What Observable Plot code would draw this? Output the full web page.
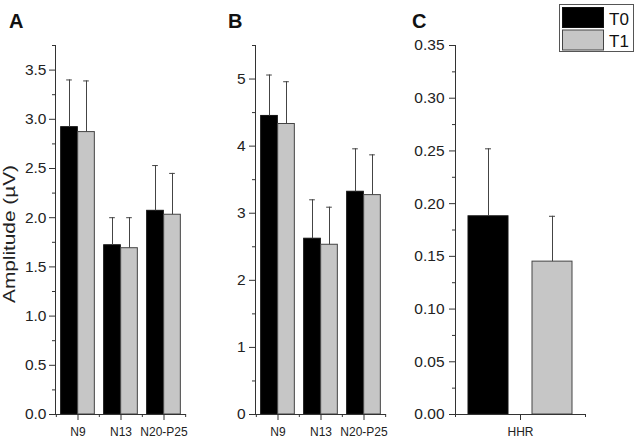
<!DOCTYPE html>
<html><head><meta charset="utf-8">
<script src="https://cdn.jsdelivr.net/npm/d3@7"></script>
<script src="https://cdn.jsdelivr.net/npm/@observablehq/plot@0.6"></script>
<style>
body{margin:0;background:#fff;font-family:"Liberation Sans",Arial,sans-serif;}
#wrap{position:relative;width:638px;height:440px;overflow:hidden;background:#fff;}
#wrap > svg{position:absolute;top:0;}
#overlay{left:0;pointer-events:none;}
</style></head><body><div id="wrap"></div>
<script>
// ---- data ----
const seriesNames = ["T0", "T1"];
const seriesColors = ["#000000", "#c6c6c6"];

const categoriesAB = ["N9", "N13", "N20-P25"];
const categoriesC = ["HHR"];

const panelA_T0 = [2.92, 1.72, 2.07];
const panelA_T1 = [2.87, 1.69, 2.03];
const panelA_T0_err = [0.48, 0.28, 0.46];
const panelA_T1_err = [0.52, 0.31, 0.42];

const panelB_T0 = [4.45, 2.62, 3.32];
const panelB_T1 = [4.33, 2.53, 3.27];
const panelB_T0_err = [0.61, 0.58, 0.64];
const panelB_T1_err = [0.63, 0.56, 0.60];

const panelC_T0 = [0.188];
const panelC_T1 = [0.145];
const panelC_T0_err = [0.064];
const panelC_T1_err = [0.043];

const yTicksA = [0, 0.5, 1, 1.5, 2, 2.5, 3, 3.5];
const yMinorA = [0.25, 0.75, 1.25, 1.75, 2.25, 2.75, 3.25, 3.75];
const yTicksB = [0, 1, 2, 3, 4, 5];
const yMinorB = [0.5, 1.5, 2.5, 3.5, 4.5, 5.5];
const yTicksC = [0, 0.05, 0.10, 0.15, 0.20, 0.25, 0.30, 0.35];
const yMinorC = [0.025, 0.075, 0.125, 0.175, 0.225, 0.275, 0.325];

const yLabel = "Amplitude (µV)";
const panelLetters = ["A", "B", "C"];

// ---- drawing ----
const FONT = '"Liberation Sans", Arial, sans-serif';
const AX = "#333";

function panel({cats, t0, t1, e0, e1, yMax, major, minor, fmt, width, barW, gap, pad}) {
  const rows = [];
  cats.forEach((c, i) => {
    rows.push({cat: c, series: seriesNames[0], value: t0[i], err: e0[i]});
    rows.push({cat: c, series: seriesNames[1], value: t1[i], err: e1[i]});
  });
  const R0 = rows.filter(d => d.series === seriesNames[0]);
  const R1 = rows.filter(d => d.series === seriesNames[1]);
  const ml = 55, inner = 130, mr = width - ml - inner;
  const bw = inner / cats.length;
  const outer = (bw - 2 * barW - gap) / 2;
  const off = gap / 2 + barW / 2;
  const capIn = (bw - 6) / 2;
  const top = d => d.value + d.err;
  return Plot.plot({
    width, height: 440,
    marginLeft: ml, marginRight: mr, marginTop: 45, marginBottom: 26,
    x: {type: "band", domain: cats, padding: 0, axis: null},
    y: {domain: [0, yMax], axis: null},
    color: {domain: seriesNames, range: seriesColors},
    style: {fontFamily: FONT, color: AX, background: "transparent"},
    marks: [
      Plot.barY(R0, {x: "cat", y: "value", fill: "series", stroke: "#111", strokeWidth: 1, insetLeft: outer, insetRight: bw / 2 + gap / 2}),
      Plot.barY(R1, {x: "cat", y: "value", fill: "series", stroke: "#444", strokeWidth: 1, insetLeft: bw / 2 + gap / 2, insetRight: outer}),
      Plot.ruleX(R0, {x: "cat", y1: "value", y2: top, dx: -off, stroke: "#444"}),
      Plot.ruleX(R1, {x: "cat", y1: "value", y2: top, dx: off, stroke: "#444"}),
      Plot.tickY(R0, {x: "cat", y: top, dx: -off, insetLeft: capIn, insetRight: capIn, stroke: "#444"}),
      Plot.tickY(R1, {x: "cat", y: top, dx: off, insetLeft: capIn, insetRight: capIn, stroke: "#444"}),
      Plot.frame({anchor: "left", stroke: AX}),
      Plot.frame({anchor: "bottom", stroke: AX}),
      Plot.axisY(major, {tickSize: 6, tickPadding: pad, tickFormat: fmt, fontSize: 15.5, label: null, fill: "#222"}),
      Plot.axisY(minor, {tickSize: 3, tickFormat: () => "", label: null}),
      Plot.axisX({tickSize: 6, tickPadding: 7, fontSize: 12, label: null, fill: "#222"}),
      Plot.axisX(cats, {tickSize: 3, dx: -bw / 2, tickFormat: () => "", label: null}),
      Plot.axisX([cats[cats.length - 1]], {tickSize: 3, dx: bw / 2, tickFormat: () => "", label: null})
    ]
  });
}

const wrap = document.getElementById("wrap");
const pA = panel({cats: categoriesAB, t0: panelA_T0, t1: panelA_T1, e0: panelA_T0_err, e1: panelA_T1_err,
  yMax: 3.75, major: yTicksA, minor: yMinorA, fmt: d3.format(".1f"), width: 200, barW: 17, gap: 0, pad: 3});
const pB = panel({cats: categoriesAB, t0: panelB_T0, t1: panelB_T1, e0: panelB_T0_err, e1: panelB_T1_err,
  yMax: 5.5, major: yTicksB, minor: yMinorB, fmt: d3.format("d"), width: 200, barW: 17, gap: 0, pad: 4});
const pC = panel({cats: categoriesC, t0: panelC_T0, t1: panelC_T1, e0: panelC_T0_err, e1: panelC_T1_err,
  yMax: 0.35, major: yTicksC, minor: yMinorC, fmt: d3.format(".2f"), width: 238, barW: 40, gap: 24, pad: 5});
pA.style.left = "0px"; pB.style.left = "200px"; pC.style.left = "400px";
wrap.append(pA, pB, pC);

// overlay: panel letters, y label, legend
const ov = d3.create("svg").attr("id", "overlay").attr("width", 638).attr("height", 440)
  .style("font-family", FONT);
const letterX = [9, 228, 412];
panelLetters.forEach((L, i) => ov.append("text").attr("x", letterX[i]).attr("y", 28)
  .attr("font-size", 20).attr("font-weight", "bold").attr("fill", "#111").text(L));
ov.append("text").attr("transform", "translate(15,234) rotate(-90)").attr("text-anchor", "middle")
  .attr("font-size", 16).attr("fill", "#222")
  .attr("textLength", 138).attr("lengthAdjust", "spacingAndGlyphs").text(yLabel);
const lg = ov.append("g");
lg.append("rect").attr("x", 559.5).attr("y", 4.5).attr("width", 74).attr("height", 47)
  .attr("fill", "#fff").attr("stroke", "#555");
seriesNames.forEach((s, i) => {
  lg.append("rect").attr("x", 562.5).attr("y", 7.5 + i * 22.5).attr("width", 41).attr("height", 20)
    .attr("fill", seriesColors[i]).attr("stroke", i ? "#444" : "#111");
  lg.append("text").attr("x", 609).attr("y", 25 + i * 22).attr("font-size", 17).attr("fill", "#111").text(s);
});
wrap.append(ov.node());
</script></body></html>
